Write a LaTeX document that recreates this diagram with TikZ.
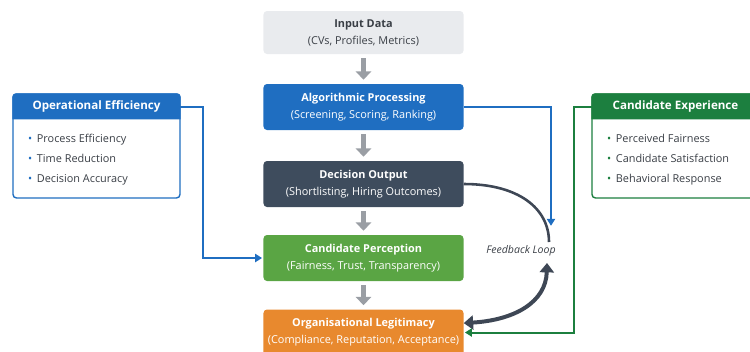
\documentclass[tikz,border=0pt]{standalone}
\usepackage{fontspec}
\setmainfont{Open Sans}
\usepackage{xcolor}
\usetikzlibrary{arrows.meta}

\definecolor{inputgray}{HTML}{E9EBEE}
\definecolor{inktext}{HTML}{3A3F46}
\definecolor{algoblue}{HTML}{1F6EC1}
\definecolor{decslate}{HTML}{3E4C5D}
\definecolor{percgreen}{HTML}{5AA544}
\definecolor{legorange}{HTML}{E8892E}
\definecolor{expgreen}{HTML}{1C7F3F}
\definecolor{arrowgray}{HTML}{9A9EA4}
\definecolor{loopgray}{HTML}{3E4755}

\tikzset{
  stage/.style={rectangle,rounded corners=3pt,align=center,text=white,
    minimum width=6cm,minimum height=1.38cm},
  sidebox/.style={rectangle,rounded corners=3pt,fill=white,line width=1.2pt,
    minimum width=5.01cm,minimum height=3.12cm},
  sidehead/.style={rectangle,text=white,font=\fontsize{9.9}{12}\selectfont\bfseries,
    minimum width=5.01cm,minimum height=0.78cm},
  items/.style={align=left,anchor=north west,text=inktext,
    font=\fontsize{9.3}{17}\selectfont},
  flow/.style={draw=arrowgray,line width=4pt,shorten <=3.5pt,shorten >=3.5pt,
    -{Triangle[width=13pt,length=7pt]}},
  link/.style={line width=1.7pt,-{Triangle[width=7pt,length=6pt]},shorten >=1pt},
  loop/.style={draw=loopgray,line width=2.2pt}
}

\begin{document}
\begin{tikzpicture}[x=0.03cm,y=-0.03cm,font=\fontsize{9.3}{14.5}\selectfont]
      \useasboundingbox (0,0) rectangle (750,351);

      % main pipeline
      \node [stage,fill=inputgray,text=inktext,minimum height=1.29cm] (input) at (363.5,32.5) {%
        \textbf{Input Data}\\(CVs, Profiles, Metrics)};
      \node [stage,fill=algoblue] (algo) at (363.5,107) {%
        \textbf{Algorithmic Processing}\\(Screening, Scoring, Ranking)};
      \node [stage,fill=decslate] (dec) at (363.5,184) {%
        \textbf{Decision Output}\\(Shortlisting, Hiring Outcomes)};
      \node [stage,fill=percgreen] (perc) at (363.5,258) {%
        \textbf{Candidate Perception}\\(Fairness, Trust, Transparency)};
      \node [stage,fill=legorange] (legit) at (363.5,332.5) {%
        \textbf{Organisational Legitimacy}\\(Compliance, Reputation, Acceptance)};

      \draw [flow] (input) -- (algo);
      \draw [flow] (algo) -- (dec);
      \draw [flow] (dec) -- (perc);
      \draw [flow] (perc) -- (legit);

      % left panel
      \node [sidebox,draw=algoblue] (opbox) at (96.5,146) {};
      \fill [algoblue] ([yshift=-0.78cm]opbox.north west) [rounded corners=3pt] -- (opbox.north west)
        -- (opbox.north east) [sharp corners] -- ([yshift=-0.78cm]opbox.north east) -- cycle;
      \node [sidehead,anchor=north] (ophead) at (opbox.north) {Operational Efficiency};
      \node [items] (oplist) at (24,130) {%
        \textcolor{algoblue}{\textbullet}\hspace{4pt}Process Efficiency\\
        \textcolor{algoblue}{\textbullet}\hspace{4pt}Time Reduction\\
        \textcolor{algoblue}{\textbullet}\hspace{4pt}Decision Accuracy};

      % right panel
      \node [sidebox,draw=expgreen] (exbox) at (675.5,146) {};
      \fill [expgreen] ([yshift=-0.78cm]exbox.north west) [rounded corners=3pt] -- (exbox.north west)
        -- (exbox.north east) [sharp corners] -- ([yshift=-0.78cm]exbox.north east) -- cycle;
      \node [sidehead,anchor=north] (exhead) at (exbox.north) {Candidate Experience};
      \node [items] (exlist) at (603,130) {%
        \textcolor{expgreen}{\textbullet}\hspace{4pt}Perceived Fairness\\
        \textcolor{expgreen}{\textbullet}\hspace{4pt}Candidate Satisfaction\\
        \textcolor{expgreen}{\textbullet}\hspace{4pt}Behavioral Response};

      % feedback
      \node [text=inktext,font=\fontsize{9}{10}\selectfont\itshape] (fb) at (521,251) {Feedback Loop};
      \coordinate (fbin) at (551,227);
      \coordinate (fbtop) at (549,242);
      \coordinate (fbbot) at (547,263);

      \draw [loop] (dec.east) .. controls (518,184) and (549,208) .. (fbtop);
      \draw [loop,line width=3.4pt,{Triangle[width=12pt,length=8pt]}-{Triangle[width=12pt,length=8pt]}]
        (fbbot) .. controls (546,302) and (515,320) .. ([yshift=8pt]legit.east);

      % side links
      \draw [link,algoblue] (algo.east) -| (fbin);
      \draw [link,algoblue] (ophead.east) -- ++(23,0) |- (perc.west);
      \draw [link,expgreen] (exhead.west) -- ++(-18,0) |- (legit.east);
\end{tikzpicture}
\end{document}
